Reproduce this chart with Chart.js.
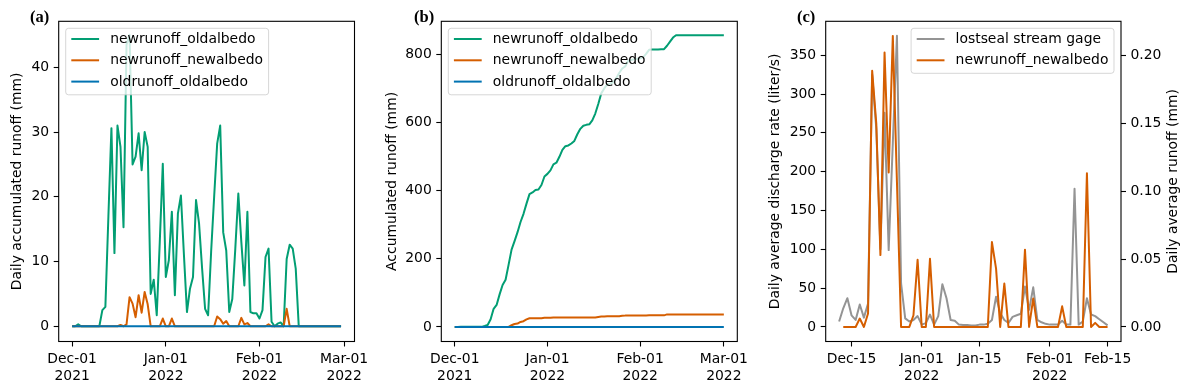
<!DOCTYPE html>
<html>
<head>
<meta charset="utf-8">
<script src="https://cdn.jsdelivr.net/npm/chart.js@4.4.1/dist/chart.umd.min.js"></script>
<style>
  html, body { margin: 0; padding: 0; background: #fff; }
  #wrap { position: relative; width: 1190px; height: 388px; overflow: hidden; }
  #wrap canvas { position: absolute; left: 0; top: 0; }
  .tag { position: absolute; font-family: 'Liberation Serif', 'DejaVu Serif', serif; font-weight: bold; font-size: 16.5px; line-height: 16px; }
</style>
</head>
<body>
<div id="wrap">
  <canvas id="chartA" width="1190" height="388"></canvas>
  <canvas id="chartB" width="1190" height="388"></canvas>
  <canvas id="chartC" width="1190" height="388"></canvas>
  <div class="tag" style="left:30px;top:9px">(a)</div>
  <div class="tag" style="left:414px;top:9px">(b)</div>
  <div class="tag" style="left:797px;top:9px">(c)</div>
</div>
<script>
// ---- data: panels (a) and (b), one value per day starting 2021-12-01 ----
const abStart = 0; // day 0 = Dec-01
const abTickDays = [0, 31, 62, 90];
const abTickLabels = [['Dec-01', '2021'], ['Jan-01', '2022'], ['Feb-01', '2022'], ['Mar-01', '2022']];

// (a) daily accumulated runoff (mm)
const newRunoffOldAlbedoDaily = [
  0, 0, 0.3, 0, 0, 0, 0, 0, 0, 0,
  2.5, 3.0, 17, 30.6, 11.3, 31.0, 27.7, 15.3, 43.5, 45.0,
  25.0, 26.2, 29.8, 24.1, 30.0, 27.7, 5.0, 7.2, 1.7, 13.0,
  25.1, 7.6, 10.2, 17.7, 4.8, 17.4, 20.2, 11.0, 2.2, 5.8,
  7.6, 19.5, 15.9, 9.0, 2.7, 1.7, 11.5, 20.0, 28.2, 31.0,
  14.5, 11.7, 2.2, 4.2, 12.0, 20.5, 13.0, 6.3, 17.7, 2.2,
  2.0, 2.0, 1.2, 2.5, 10.7, 12.0, 0.7, 0, 0.4, 0.6,
  0, 10.4, 12.6, 12.0, 8.9, 0, 0, 0, 0, 0,
  0, 0, 0, 0, 0, 0, 0, 0, 0, 0
];
const newRunoffNewAlbedoDaily = [
  0, 0, 0, 0, 0, 0, 0, 0, 0, 0,
  0, 0, 0, 0, 0, 0, 0.2, 0, 0.3, 4.5,
  3.5, 1.4, 4.8, 2.1, 5.3, 3.4, 0, 0, 0, 0,
  1.2, 0, 0, 1.2, 0, 0, 0, 0, 0, 0,
  0, 0, 0, 0, 0, 0, 0, 0, 1.5, 1.1,
  0.4, 0.8, 0, 0, 0, 0, 1.3, 0.3, 0.5, 0,
  0, 0, 0, 0, 0, 0.3, 0, 0, 0, 0,
  0, 2.7, 0, 0, 0, 0, 0, 0, 0, 0,
  0, 0, 0, 0, 0, 0, 0, 0, 0, 0
];
const oldRunoffOldAlbedoDaily = [
  0, 0, 0, 0, 0, 0, 0, 0, 0, 0,
  0, 0, 0, 0, 0, 0, 0, 0, 0, 0,
  0, 0, 0, 0, 0, 0, 0, 0, 0, 0,
  0, 0, 0, 0, 0, 0, 0, 0, 0, 0,
  0, 0, 0, 0, 0, 0, 0, 0, 0, 0,
  0, 0, 0, 0, 0, 0, 0, 0, 0, 0,
  0, 0, 0, 0, 0, 0, 0, 0, 0, 0,
  0, 0, 0, 0, 0, 0, 0, 0, 0, 0,
  0, 0, 0, 0, 0, 0, 0, 0, 0, 0
];

// (b) accumulated runoff (mm)
const newRunoffOldAlbedoCum = [
  0, 0, 0.3, 0.3, 0.3, 0.3, 0.3, 0.3, 0.3, 0.3,
  2.8, 5.8, 22.8, 53.4, 64.7, 95.7, 123.4, 138.7, 182.2, 227.2,
  252.2, 278.4, 308.2, 332.3, 362.3, 390.0, 395.0, 402.2, 403.9, 416.9,
  442.0, 449.6, 459.8, 477.5, 482.3, 499.7, 519.9, 530.9, 533.1, 538.9,
  546.5, 566.0, 581.9, 590.9, 593.6, 595.3, 606.8, 626.8, 655.0, 686.0,
  700.5, 712.2, 714.4, 718.6, 730.6, 746, 759, 765, 782, 784,
  786, 788, 789, 792, 802, 814, 815, 815, 815, 816,
  816, 826, 838, 850, 857, 857, 857, 857, 857, 857,
  857, 857, 857, 857, 857, 857, 857, 857, 857, 857,
  857
];
const newRunoffNewAlbedoCum = [
  0, 0, 0, 0, 0, 0, 0, 0, 0, 0,
  0, 0, 0, 0, 0, 0, 0.2, 0.2, 0.5, 5.0,
  8.5, 9.9, 14.7, 16.8, 22.1, 25.5, 25.5, 25.5, 25.5, 25.5,
  26.7, 26.7, 26.7, 27.9, 27.9, 27.9, 27.9, 27.9, 27.9, 27.9,
  27.9, 27.9, 27.9, 27.9, 27.9, 27.9, 27.9, 27.9, 29.4, 30.5,
  30.9, 31.7, 31.7, 31.7, 31.7, 31.7, 33.0, 33.3, 33.8, 33.8,
  33.8, 33.8, 33.8, 33.8, 33.8, 34.1, 34.1, 34.1, 34.1, 34.1,
  34.1, 36.8, 36.8, 36.8, 36.8, 36.8, 36.8, 36.8, 36.8, 36.8,
  36.8, 36.8, 36.8, 36.8, 36.8, 36.8, 36.8, 36.8, 36.8, 36.8,
  36.8
];
const oldRunoffOldAlbedoCum = [
  0, 0, 0, 0, 0, 0, 0, 0, 0, 0,
  0, 0, 0, 0, 0, 0, 0, 0, 0, 0,
  0, 0, 0, 0, 0, 0, 0, 0, 0, 0,
  0, 0, 0, 0, 0, 0, 0, 0, 0, 0,
  0, 0, 0, 0, 0, 0, 0, 0, 0, 0,
  0, 0, 0, 0, 0, 0, 0, 0, 0, 0,
  0, 0, 0, 0, 0, 0, 0, 0, 0, 0,
  0, 0, 0, 0, 0, 0, 0, 0, 0, 0,
  0, 0, 0, 0, 0, 0, 0, 0, 0, 0,
  0
];

// ---- data: panel (c), day offsets from 2022-01-01 ----
const cTickDays = [-17, 0, 14, 31, 45];
const cTickLabels = ['Dec-15', ['Jan-01', '2022'], 'Jan-15', ['Feb-01', '2022'], 'Feb-15'];

const gageStart = -20; // Dec-12
const gageDischarge = [ // liter/s
  7, 24, 37, 15, 9, 29, 12, 30, 325, 255,
  100, 276, 99, 237, 375, 56, 11, 7, 9, 14,
  3, 5, 16, 3, 14, 55, 37, 9, 8, 3,
  2.5, 2.5, 2, 2, 3, 3, 4, 9, 39, 18,
  9, 5, 13, 15, 17, 52, 22, 51, 9, 6,
  4, 3, 3, 3, 8, 3, 3, 178, 3, 7,
  37, 16, 14, 10, 6, 2
];
const modelStart = -19; // Dec-13
const modelDailyAvg = [ // mm
  0, 0, 0, 0, 0.0062, 0, 0.0099, 0.189, 0.150, 0.053,
  0.2024, 0.114, 0.2147, 0.107, 0, 0, 0, 0.0086, 0.0496, 0,
  0, 0.0503, 0, 0, 0, 0, 0, 0, 0, 0,
  0, 0, 0, 0, 0, 0, 0.0626, 0.043, 0, 0.032,
  0, 0, 0, 0, 0.057, 0, 0.021, 0, 0, 0,
  0, 0, 0, 0.0152, 0, 0, 0, 0, 0, 0.1134,
  0, 0.003, 0, 0, 0
];

const GREEN = '#029E73', ORANGE = '#D55E00', BLUE = '#0173B2', GRAY = '#949494';

Chart.defaults.font.family = "'DejaVu Sans', sans-serif";
Chart.defaults.font.size = 13.9;
Chart.defaults.color = '#000';

// frame around plot area + matplotlib-like legend box
const panelBox = {
  id: 'panelBox',
  afterDatasetsDraw(chart, args, opts) {
    const { ctx, chartArea: a } = chart;
    ctx.save();
    ctx.strokeStyle = '#000';
    ctx.lineWidth = 1.1;
    ctx.strokeRect(a.left, a.top, a.right - a.left, a.bottom - a.top);

    const items = chart.data.datasets.map(d => ({ label: d.label, color: d.borderColor }));
    ctx.font = "13.9px 'DejaVu Sans'";
    const tw = Math.max(...items.map(i => ctx.measureText(i.label).width));
    const w = 44.5 + tw + 5.6;
    const h = 23.5 + 21.5 * (items.length - 1);
    const x = opts.side === 'right' ? a.right - 7 - w : a.left + 7;
    const y = a.top + 7;
    const r = 2.8;
    ctx.beginPath();
    ctx.moveTo(x + r, y);
    ctx.lineTo(x + w - r, y); ctx.quadraticCurveTo(x + w, y, x + w, y + r);
    ctx.lineTo(x + w, y + h - r); ctx.quadraticCurveTo(x + w, y + h, x + w - r, y + h);
    ctx.lineTo(x + r, y + h); ctx.quadraticCurveTo(x, y + h, x, y + h - r);
    ctx.lineTo(x, y + r); ctx.quadraticCurveTo(x, y, x + r, y);
    ctx.closePath();
    ctx.fillStyle = 'rgba(255,255,255,0.8)';
    ctx.fill();
    ctx.strokeStyle = 'rgba(204,204,204,0.8)';
    ctx.lineWidth = 1;
    ctx.stroke();

    items.forEach((it, i) => {
      const cy = y + 10.7 + 21.3 * i;
      ctx.beginPath();
      ctx.strokeStyle = it.color;
      ctx.lineWidth = 2;
      ctx.moveTo(x + 5.6, cy);
      ctx.lineTo(x + 33.4, cy);
      ctx.stroke();
      ctx.fillStyle = '#000';
      ctx.textBaseline = 'middle';
      ctx.textAlign = 'left';
      ctx.fillText(it.label, x + 44.5, cy + 0.5);
    });

    if (opts.rightTitle) {
      ctx.translate(opts.rightTitle.x, (a.top + a.bottom) / 2);
      ctx.rotate(-Math.PI / 2);
      ctx.textAlign = 'center';
      ctx.textBaseline = 'middle';
      ctx.fillStyle = '#000';
      ctx.fillText(opts.rightTitle.text, 0, 0);
    }
    ctx.restore();
  }
};

const tickGrid = { drawOnChartArea: false, drawTicks: true, tickLength: 5, tickWidth: 1.1, color: '#000' };

function fixedTicks(values) {
  return s => { s.ticks = values.map(v => ({ value: v })); };
}

function xAxis(min, max, tickVals, tickLabels) {
  return {
    type: 'linear', min, max,
    afterBuildTicks: fixedTicks(tickVals),
    afterFit: s => { s.height = 46.5; },
    ticks: { autoSkip: false, maxRotation: 0, minRotation: 0, padding: 4.5,
      callback: (v, i) => tickLabels[i] },
    grid: tickGrid,
    border: { display: false }
  };
}

function yAxis(position, min, max, tickVals, fmt, width, title) {
  return {
    type: 'linear', position, min, max,
    afterBuildTicks: fixedTicks(tickVals),
    afterFit: s => { s.width = width; },
    ticks: { padding: 4.5, callback: v => fmt(v) },
    grid: tickGrid,
    border: { display: false },
    title: title ? { display: true, text: title, padding: 0 } : { display: false }
  };
}

function series(label, start, values, color, order, yAxisID) {
  const ds = {
    label,
    data: values.map((v, i) => ({ x: start + i, y: v })),
    borderColor: color,
    backgroundColor: color,
    borderWidth: 2,
    borderJoinStyle: 'round',
    pointRadius: 0,
    tension: 0,
    order
  };
  if (yAxisID) ds.yAxisID = yAxisID;
  return ds;
}

const baseOptions = (padding) => ({
  responsive: false,
  animation: false,
  events: [],
  layout: { padding }
});

// (a)
new Chart(document.getElementById('chartA'), {
  type: 'line',
  data: {
    datasets: [
      series('newrunoff_oldalbedo', abStart, newRunoffOldAlbedoDaily, GREEN, 2),
      series('newrunoff_newalbedo', abStart, newRunoffNewAlbedoDaily, ORANGE, 1),
      series('oldrunoff_oldalbedo', abStart, oldRunoffOldAlbedoDaily, BLUE, 0)
    ]
  },
  options: Object.assign(baseOptions({ left: 9.2, right: 1190 - 354.5, top: 21.3, bottom: 0 }), {
    scales: {
      x: xAxis(-4.45, 93.45, abTickDays, abTickLabels),
      y: yAxis('left', -2.35, 47.1, [0, 10, 20, 30, 40], v => String(v), 49.5, 'Daily accumulated runoff (mm)')
    },
    plugins: { legend: { display: false }, tooltip: { enabled: false }, panelBox: { side: 'left' } }
  }),
  plugins: [panelBox]
});

// (b)
new Chart(document.getElementById('chartB'), {
  type: 'line',
  data: {
    datasets: [
      series('newrunoff_oldalbedo', abStart, newRunoffOldAlbedoCum, GREEN, 2),
      series('newrunoff_newalbedo', abStart, newRunoffNewAlbedoCum, ORANGE, 1),
      series('oldrunoff_oldalbedo', abStart, oldRunoffOldAlbedoCum, BLUE, 0)
    ]
  },
  options: Object.assign(baseOptions({ left: 383.7, right: 1190 - 737.3, top: 21.3, bottom: 0 }), {
    scales: {
      x: xAxis(-4.5, 94.5, abTickDays, abTickLabels),
      y: yAxis('left', -42.75, 897.75, [0, 200, 400, 600, 800], v => String(v), 57.6, 'Accumulated runoff (mm)')
    },
    plugins: { legend: { display: false }, tooltip: { enabled: false }, panelBox: { side: 'left' } }
  }),
  plugins: [panelBox]
});

// (c)
new Chart(document.getElementById('chartC'), {
  type: 'line',
  data: {
    datasets: [
      series('lostseal stream gage', gageStart, gageDischarge, GRAY, 1, 'y'),
      series('newrunoff_newalbedo', modelStart, modelDailyAvg, ORANGE, 0, 'y1')
    ]
  },
  options: Object.assign(baseOptions({ left: 766.7, right: 29, top: 21.3, bottom: 0 }), {
    scales: {
      x: xAxis(-23.25, 48.25, cTickDays, cTickLabels),
      y: yAxis('left', -18.75, 393.75, [0, 50, 100, 150, 200, 250, 300, 350], v => String(v), 59, 'Daily average discharge rate (liter/s)'),
      y1: yAxis('right', -0.01074, 0.22547, [0, 0.05, 0.1, 0.15, 0.2], v => v.toFixed(2), 40, null)
    },
    plugins: {
      legend: { display: false }, tooltip: { enabled: false },
      panelBox: { side: 'right', rightTitle: { text: 'Daily average runoff (mm)', x: 1173 } }
    }
  }),
  plugins: [panelBox]
});
</script>
</body>
</html>
